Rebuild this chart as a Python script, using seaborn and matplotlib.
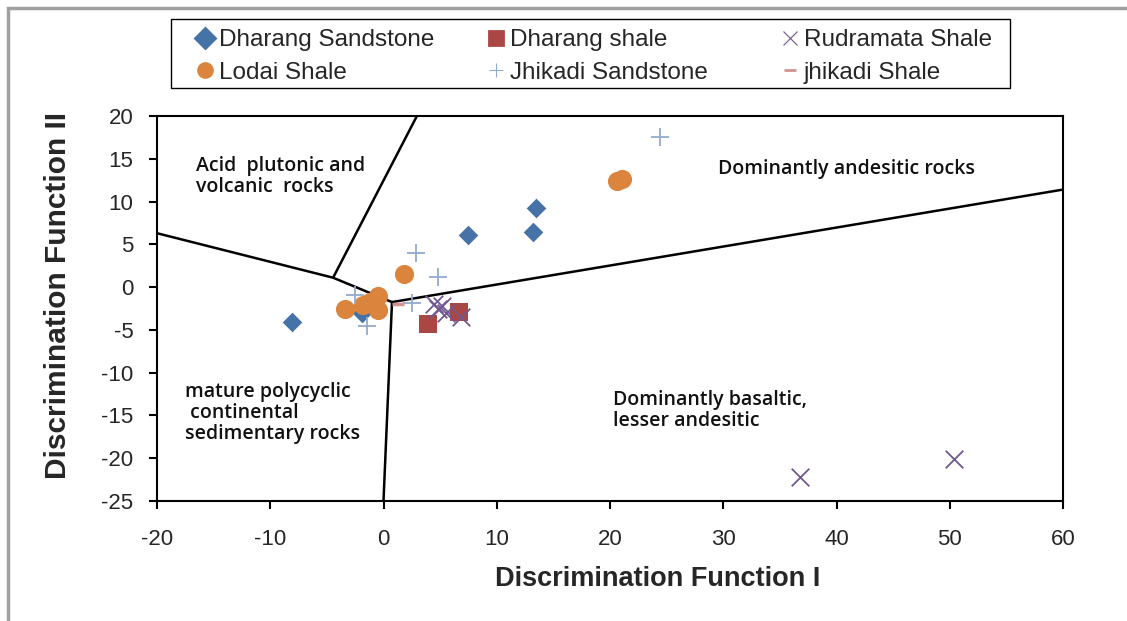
import matplotlib
matplotlib.use("Agg")
import matplotlib.pyplot as plt
import matplotlib.patches as mpatches
import pandas as pd
import seaborn as sns

# ── Data ────────────────────────────────────────────────────────────────────
dharang_ss_x = [-8.1, 7.5, 13.2, 13.5, -1.9]
dharang_ss_y = [-4.1, 6.1, 6.5, 9.3, -3.0]

dharang_sh_x = [3.9, 6.7]
dharang_sh_y = [-4.3, -2.9]

rudramata_x = [36.8, 50.4, 4.5, 4.8, 5.2, 5.5, 6.8]
rudramata_y = [-22.2, -20.1, -2.0, -2.6, -2.2, -3.0, -3.5]

lodai_x = [20.6, 21.1, 1.8, -3.4, -1.8, -0.5, -0.5, -1.2]
lodai_y = [12.4, 12.6, 1.5, -2.5, -2.1, -1.0, -2.7, -1.7]

jhikadi_ss_x = [24.4, 2.9, 4.8, 2.5, -1.5, -2.5]
jhikadi_ss_y = [17.6, 4.0, 1.2, -1.9, -4.6, -0.9]

jhikadi_sh_x = [1.3]
jhikadi_sh_y = [-2.0]

# field boundaries (polylines)
bound_left_x = [-20, -4.45, 0.75]
bound_left_y = [6.3, 1.1, -1.75]
bound_top_x = [-4.45, 2.95]
bound_top_y = [1.1, 20]
bound_right_x = [0.75, 60]
bound_right_y = [-1.75, 11.4]
bound_down_x = [0.75, 0.0]
bound_down_y = [-1.75, -25]

x_ticks = list(range(-20, 61, 10))
y_ticks = list(range(-25, 21, 5))

SERIES = [
    ("Dharang Sandstone", dharang_ss_x, dharang_ss_y, "D", "#4572A7", 100),
    ("Dharang shale", dharang_sh_x, dharang_sh_y, "s", "#AA4643", 170),
    ("Rudramata Shale", rudramata_x, rudramata_y, "x", "#71588F", 160),
    ("Lodai Shale", lodai_x, lodai_y, "o", "#DB843D", 190),
    ("Jhikadi Sandstone", jhikadi_ss_x, jhikadi_ss_y, "+", "#93A9CF", 180),
    ("jhikadi Shale", jhikadi_sh_x, jhikadi_sh_y, "_", "#D19392", 70),
]

# legend layout: one column per pair, as in the original
legend_columns = [["Dharang Sandstone", "Lodai Shale"],
                  ["Dharang shale", "Jhikadi Sandstone"],
                  ["Rudramata Shale", "jhikadi Shale"]]
legend_col_px = [186, 477, 771]

sns.set_theme(style="white")
plt.rcParams["font.family"] = ["Liberation Sans", "DejaVu Sans"]
plt.rcParams["axes.unicode_minus"] = False

fig = plt.figure(figsize=(11.27, 6.21), dpi=100)
ax = fig.add_axes([157 / 1127, 1 - 501 / 621, (1063 - 157) / 1127, (501 - 116) / 621])

# boundaries
for bx, by in [(bound_left_x, bound_left_y), (bound_top_x, bound_top_y),
               (bound_right_x, bound_right_y), (bound_down_x, bound_down_y)]:
    ax.plot(bx, by, color="black", linewidth=1.8, zorder=3)

handles = {}
for name, xs, ys, mk, col, size in SERIES:
    df = pd.DataFrame({"x": xs, "y": ys})
    lw = 1.3 if mk in ("x", "+") else (2.5 if mk == "_" else 0)
    sns.scatterplot(data=df, x="x", y="y", marker=mk, color=col, s=size,
                    linewidth=lw, edgecolor=col if lw == 0 else None,
                    ax=ax, zorder=4, legend=False)
    handles[name] = plt.Line2D([], [], linestyle="none", marker=mk, color=col,
                               markersize=10 if mk != "_" else 8,
                               markeredgewidth=0.8 if mk in ("x", "+") else 2)

ax.set_xlim(-20, 60)
ax.set_ylim(-25, 20)
ax.set_xticks(x_ticks)
ax.set_yticks(y_ticks)
ax.tick_params(axis="both", direction="out", length=6, width=1.5, color="black",
               labelsize=16, bottom=True, left=True)
ax.tick_params(axis="x", pad=14)
ax.tick_params(axis="y", pad=11)
for sp in ax.spines.values():
    sp.set_color("black")
    sp.set_linewidth(1.5)

ax.set_xlabel("Discrimination Function I", fontsize=19.5, fontweight="bold")
ax.xaxis.set_label_coords((658 - 157) / 906, (501 - 566) / 385)
ax.set_ylabel("Discrimination Function II", fontsize=21.5, fontweight="bold")
ax.yaxis.set_label_coords((72 - 157) / 906, (501 - 295) / 385)

txt_kw = dict(fontsize=14, fontweight="semibold", color="#111111",
              family=["Open Sans", "DejaVu Sans"], va="center", ha="left", linespacing=1.05)
ax.text(-16.6, 12.9, "Acid  plutonic and\nvolcanic  rocks", **txt_kw)
ax.text(29.5, 13.8, "Dominantly andesitic rocks", **txt_kw)
ax.text(-17.5, -14.7, "mature polycyclic\n continental\nsedimentary rocks", **txt_kw)
ax.text(20.3, -14.4, "Dominantly basaltic,\nlesser andesitic", **txt_kw)

for names, px in zip(legend_columns, legend_col_px):
    fig.legend([handles[k] for k in names], names, loc="upper left",
               bbox_to_anchor=(px / 1127, 1 - 22 / 621), bbox_transform=fig.transFigure,
               fontsize=17.5, frameon=False, handletextpad=0.05,
               handlelength=1.0, borderpad=0.3, labelspacing=0.42, borderaxespad=0)

# legend box drawn separately
fig.patches.append(mpatches.Rectangle((171 / 1127, 1 - 88 / 621), (1010 - 171) / 1127,
                                      (88 - 19) / 621, transform=fig.transFigure,
                                      fill=False, edgecolor="black", linewidth=1.0))

# outer gray frame of the original figure
fig.patches.append(mpatches.Rectangle((8 / 1127, -0.1), 1.2, 1 - 8 / 621 + 0.1,
                                      transform=fig.transFigure, fill=False,
                                      edgecolor="#a0a0a0", linewidth=2.5))

fig.savefig("out.png", dpi=100)
